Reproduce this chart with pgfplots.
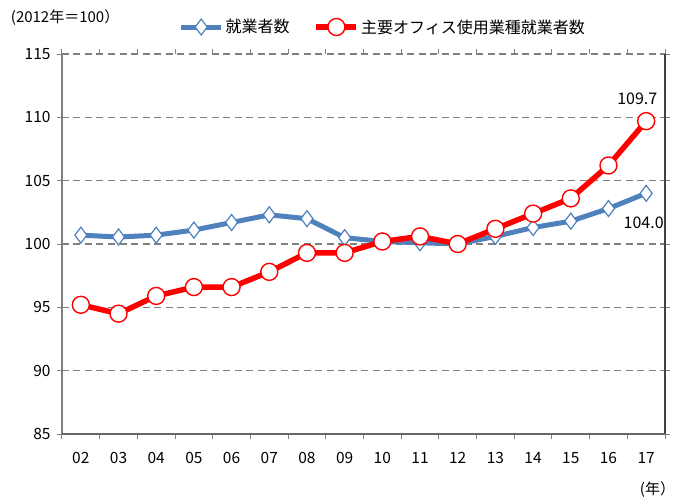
\documentclass[border=0pt]{standalone}
\usepackage{pgfplots}
\pgfplotsset{compat=1.18}
\usepackage{fontspec}
\setmainfont{Noto Sans CJK JP}
\definecolor{cblue}{RGB}{79,129,189}
\definecolor{cred}{RGB}{255,0,0}
\definecolor{gridc}{RGB}{128,128,128}
\begin{document}
\begin{tikzpicture}
\useasboundingbox (-62pt,-65pt) rectangle (622pt,434pt);
\begin{axis}[
  at={(0pt,0pt)}, anchor=south west,
  scale only axis, width=603pt, height=380pt,
  xmin=-0.5, xmax=15.5, ymin=85, ymax=115,
  xtick={0,...,15},
  xticklabels={02,03,04,05,06,07,08,09,10,11,12,13,14,15,16,17},
  minor xtick={-0.5,0.5,...,15.5},
  ytick={85,90,...,115},
  ymajorgrids, grid style={gridc, dash pattern=on 7pt off 4.5pt, line width=1.3pt},
  major x tick style={draw=none},
  minor tick length=5pt, major tick length=5pt,
  tick align=outside, tick style={gridc, line width=1pt},
  xticklabel style={yshift=-10pt},
  yticklabel style={xshift=-3pt},
  /pgf/number format/assume math mode=true,
  ticklabel style={font=\fontsize{15.5}{17}\selectfont},
  axis line style={draw=none},
  clip=false,
  legend columns=2,
  legend style={draw=none, fill=none, at={(0.532,1.071)}, anchor=center,
    font=\fontsize{16}{18}\selectfont, /tikz/every even column/.append style={column sep=22pt}},
  legend image code/.code={
    \draw[#1, mark=none] (0pt,0pt) -- (40pt,0pt);
    \draw[#1, only marks] plot coordinates {(20pt,0pt)};
  },
]
\draw[gridc, line width=2pt] (rel axis cs:0,0) -- (rel axis cs:0,1);
\draw[black!75, line width=2pt] (rel axis cs:1,0) -- (rel axis cs:1,1);
\draw[gridc!80!black, line width=1.8pt] (rel axis cs:0,0) -- (rel axis cs:1,0);
\addplot[cblue, line width=5pt, mark=diamond*, mark size=8pt,
  mark options={fill=white, draw=cblue, line width=1.2pt}]
  coordinates {(0,100.7) (1,100.55) (2,100.7) (3,101.1) (4,101.7) (5,102.3) (6,102.0) (7,100.5) (8,100.2) (9,100.1) (10,100.0) (11,100.6) (12,101.3) (13,101.8) (14,102.8) (15,104.0)};
\addlegendentry{就業者数}
\addplot[cred, line width=5.5pt, mark=*, mark size=8.5pt,
  mark options={fill=white, draw=cred, line width=1.4pt}]
  coordinates {(0,95.2) (1,94.5) (2,95.9) (3,96.6) (4,96.6) (5,97.8) (6,99.3) (7,99.3) (8,100.2) (9,100.6) (10,100.0) (11,101.2) (12,102.4) (13,103.6) (14,106.2) (15,109.7)};
\addlegendentry{主要オフィス使用業種就業者数}
\node[font=\fontsize{16}{18}\selectfont, anchor=base east, inner sep=0pt] at (axis cs:15.3,111.0) {109.7};
\node[font=\fontsize{16}{18}\selectfont, anchor=base east, inner sep=0pt] at (axis cs:15.47,101.2) {104.0};
\node[font=\fontsize{15}{17}\selectfont, anchor=west, inner sep=0pt] at (rel axis cs:-0.085,1.095) {(2012年＝100）};
\node[font=\fontsize{15}{17}\selectfont, anchor=east, inner sep=0pt] at (rel axis cs:1.017,-0.146) {(年）};
\end{axis}
\end{tikzpicture}
\end{document}
